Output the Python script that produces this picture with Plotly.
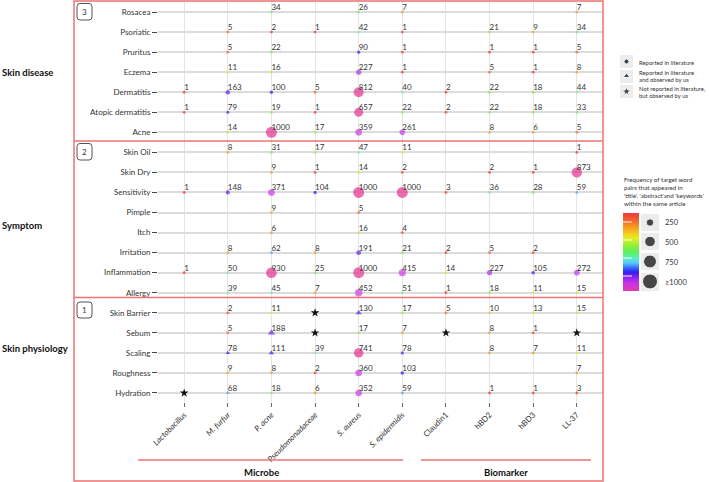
import numpy as np
import plotly.graph_objects as go

# ---------------- data ----------------
columns = ["Lactobacillus", "M. furfur", "P. acne", "Pseudomonadaceae", "S. aureus",
           "S. epidermidis", "Claudin1", "hBD2", "hBD3", "LL-37"]
italic_columns = ["Lactobacillus", "M. furfur", "P. acne", "Pseudomonadaceae", "S. aureus", "S. epidermidis"]

skin_disease_rows = ["Rosacea", "Psoriatic", "Pruritus", "Eczema", "Dermatitis", "Atopic dermatitis", "Acne"]
skin_disease_values = [
    [None, None, 34, None, 26, 7, None, None, None, 7],
    [None, 5, 2, 1, 42, 1, None, 21, 9, 34],
    [None, 5, 22, None, 90, 1, None, 1, 1, 5],
    [None, 11, 16, None, 227, 1, None, 5, 1, 8],
    [1, 163, 100, 5, 812, 40, 2, 22, 18, 44],
    [1, 79, 19, 1, 657, 22, 2, 22, 18, 33],
    [None, 14, 1000, 17, 359, 261, None, 8, 6, 5],
]

symptom_rows = ["Skin Oil", "Skin Dry", "Sensitivity", "Pimple", "Itch", "Irritation", "Inflammation", "Allergy"]
symptom_values = [
    [None, 8, 31, 17, 47, 11, None, None, None, 1],
    [None, None, 9, 1, 14, 2, None, 2, 1, 873],
    [1, 148, 371, 104, 1000, 1000, 3, 36, 28, 59],
    [None, None, 9, None, 5, None, None, None, None, None],
    [None, None, 6, None, 16, 4, None, None, None, None],
    [None, 8, 62, 8, 191, 21, 2, 5, 2, None],
    [1, 50, 930, 25, 1000, 415, 14, 227, 105, 272],
    [None, 39, 45, 7, 452, 51, 1, 18, 11, 15],
]

physiology_rows = ["Skin Barrier", "Sebum", "Scaling", "Roughness", "Hydration"]
physiology_values = [
    [None, 2, 11, None, 130, 17, 5, 10, 13, 15],
    [None, 5, 188, None, 17, 7, None, 8, 1, None],
    [None, 78, 111, 39, 741, 78, None, 8, 7, 11],
    [None, 9, 8, 2, 360, 103, None, None, None, 7],
    [None, 68, 18, 6, 352, 59, None, 1, 1, 3],
]

# reported in literature and observed by us (triangles)
observed_and_reported = [("Skin Barrier", "M. furfur"), ("Skin Barrier", "P. acne"),
                         ("Skin Barrier", "S. aureus"), ("Skin Barrier", "LL-37"),
                         ("Sebum", "P. acne"), ("Scaling", "M. furfur"),
                         ("Scaling", "P. acne"), ("Scaling", "Pseudomonadaceae"),
                         ("Hydration", "M. furfur")]
# not reported in literature, but observed by us (stars)
observed_only = [("Skin Barrier", "Pseudomonadaceae"), ("Sebum", "Pseudomonadaceae"),
                 ("Sebum", "Claudin1"), ("Sebum", "LL-37"), ("Hydration", "Lactobacillus")]

size_legend_values = [250, 500, 750, 1000]
size_legend_labels = ["250", "500", "750", "≥1000"]

# ---------------- styling helpers ----------------
FONT = "Lato, 'Open Sans', sans-serif"
RED = "#f07272"
W, H = 709, 482

marker_scale = [
    [0.0, "#f03030"], [0.22, "#f03a2a"], [0.25, "#f5901e"], [0.325, "#f5a020"],
    [0.345, "#dcf020"], [0.39, "#c8f020"], [0.42, "#80f040"], [0.5, "#66f050"],
    [0.53, "#70f0a8"], [0.575, "#70f0b4"], [0.585, "#4aa8ff"], [0.615, "#4aa0ff"],
    [0.63, "#2626f0"], [0.68, "#3020f0"], [0.72, "#6020e8"], [0.775, "#7420e8"],
    [0.79, "#c23cf0"], [0.89, "#d03ce0"], [0.92, "#e2318e"], [1.0, "#e2318e"],
]
bar_scale = [
    [0.0, "#f03c3c"], [0.1, "#f26a2a"], [0.17, "#f59a20"], [0.27, "#f2d020"],
    [0.33, "#e0f020"], [0.42, "#8ef03a"], [0.5, "#5cf05c"], [0.58, "#55f0c0"],
    [0.64, "#55c8ff"], [0.7, "#3a6aff"], [0.76, "#2a1aee"], [0.83, "#8a22ee"],
    [0.91, "#cc33e6"], [1.0, "#e03ab0"],
]

rows = skin_disease_rows + symptom_rows + physiology_rows
all_values = skin_disease_values + symptom_values + physiology_values

circ = {"x": [], "y": [], "v": []}
tri = {"x": [], "y": [], "v": []}
txt = {"x": [], "y": [], "t": []}
for r, vals in zip(rows, all_values):
    for c, v in zip(columns, vals):
        if v is None:
            continue
        target = tri if (r, c) in observed_and_reported else circ
        target["x"].append(c)
        target["y"].append(r)
        target["v"].append(v)
        txt["x"].append(c)
        txt["y"].append(r)
        txt["t"].append(str(v))


def color_val(vs):
    return [np.log10(min(v, 1000)) / 3 for v in vs]


def circ_size(vs):
    return [max(2.8, 11 * np.sqrt(min(v, 1000) / 1000)) for v in vs]


def tri_size(vs):
    return [max(3.8, 15 * np.sqrt(min(v, 1000) / 1000)) for v in vs]


fig = go.Figure()

fig.add_trace(go.Scatter(
    x=circ["x"], y=circ["y"], mode="markers", xaxis="x", yaxis="y",
    marker=dict(symbol="circle", size=circ_size(circ["v"]), color=color_val(circ["v"]),
                colorscale=marker_scale, cmin=0, cmax=1, line=dict(width=0)),
    hoverinfo="skip", showlegend=False))
fig.add_trace(go.Scatter(
    x=tri["x"], y=tri["y"], mode="markers", xaxis="x", yaxis="y",
    marker=dict(symbol="triangle-up", size=tri_size(tri["v"]), color=color_val(tri["v"]),
                colorscale=marker_scale, cmin=0, cmax=1, line=dict(width=0)),
    hoverinfo="skip", showlegend=False))
fig.add_trace(go.Scatter(
    x=[c for _, c in observed_only], y=[r for r, _ in observed_only], mode="markers",
    xaxis="x", yaxis="y",
    marker=dict(symbol="star", size=6.5, color="#111", line=dict(width=0)),
    hoverinfo="skip", showlegend=False))
fig.add_trace(go.Scatter(
    x=txt["x"], y=txt["y"], text=txt["t"], mode="text", textposition="top right",
    textfont=dict(size=8, color="#333", family=FONT), xaxis="x", yaxis="y",
    hoverinfo="skip", showlegend=False))

# ---------- overlay pixel-space axis for legend / decorations ----------
fig.add_trace(go.Scatter(
    x=[626.5, 626.5, 626.5], y=[61.5, 76, 91.5], mode="markers", xaxis="x2", yaxis="y2",
    marker=dict(symbol=["circle", "triangle-up", "star"], size=[5, 6, 7], color="black"),
    hoverinfo="skip", showlegend=False))
fig.add_trace(go.Scatter(
    x=[650] * 4, y=[222.5, 241.5, 261.5, 281.5], mode="markers", xaxis="x2", yaxis="y2",
    marker=dict(symbol="circle", size=[15 * np.sqrt(v / 1000) for v in size_legend_values], color="black"),
    hoverinfo="skip", showlegend=False))
n = 80
fig.add_trace(go.Heatmap(
    z=[[t] for t in np.linspace(0, 1, n)], x0=631, dx=16, y0=213 + 78 / (2 * n), dy=78 / n,
    colorscale=bar_scale, zmin=0, zmax=1, showscale=False, xaxis="x2", yaxis="y2",
    hoverinfo="skip"))

shapes = []


def line(x0, y0, x1, y1, color=RED, width=1.5, dash=None):
    d = dict(type="line", xref="x2", yref="y2", x0=x0, y0=y0, x1=x1, y1=y1,
             line=dict(color=color, width=width))
    if dash:
        d["line"]["dash"] = dash
    shapes.append(d)


def rrect(x0, y0, x1, y1, r=3):
    return (f"M{x0 + r},{y0} L{x1 - r},{y0} Q{x1},{y0} {x1},{y0 + r} L{x1},{y1 - r} "
            f"Q{x1},{y1} {x1 - r},{y1} L{x0 + r},{y1} Q{x0},{y1} {x0},{y1 - r} "
            f"L{x0},{y0 + r} Q{x0},{y0} {x0 + r},{y0} Z")


shapes.append(dict(type="rect", xref="x2", yref="y2", x0=74, y0=1, x1=603, y1=481,
                   line=dict(color=RED, width=1.5)))
line(74, 141, 603, 141)
line(74, 297.5, 603, 297.5)
line(138, 460, 403, 460)
line(421, 460, 591, 460)
for (y0, y1) in [(3.5, 20), (143.5, 160), (302, 318)]:
    shapes.append(dict(type="path", xref="x2", yref="y2", path=rrect(77, y0, 92, y1),
                       line=dict(color="#555", width=1)))
for (y0, y1) in [(55, 68), (70, 83), (85, 98)]:
    shapes.append(dict(type="rect", xref="x2", yref="y2", x0=620, y0=y0, x1=633, y1=y1,
                       fillcolor="#ececec", line=dict(width=0), layer="below"))
for (y0, y1) in [(214, 231), (233, 250), (253, 270), (273, 291)]:
    shapes.append(dict(type="rect", xref="x2", yref="y2", x0=641, y0=y0, x1=659, y1=y1,
                       fillcolor="#ececec", line=dict(width=0), layer="below"))
for yy in [222, 240, 258, 276]:
    line(623, yy, 639, yy, color="rgba(255,255,255,0.8)", width=1.2, dash="dash")

annotations = []


def label(text, x, y, size=8, xanchor="left", yanchor="middle", color="#333"):
    annotations.append(dict(text=text, x=x, y=y, xref="x2", yref="y2", showarrow=False,
                            xanchor=xanchor, yanchor=yanchor,
                            font=dict(size=size, color=color, family=FONT)))


label("<b>Skin disease</b>", 0, 72, size=9.5, color="#111")
label("<b>Symptom</b>", 0, 225, size=9.5, color="#111")
label("<b>Skin physiology</b>", 0, 348, size=9.5, color="#111")
label("3", 84.5, 12, xanchor="center")
label("2", 84.5, 152, xanchor="center")
label("1", 84.5, 310, xanchor="center")
label("<b>Microbe</b>", 261.5, 472, size=9.5, xanchor="center", color="#111")
label("<b>Biomarker</b>", 505.5, 472, size=9.5, xanchor="center", color="#111")

label("Reported in literature", 637, 62, size=5.9)
label("Reported in literature", 637, 72.5, size=5.9)
label("and observed by us", 637, 79.5, size=5.9)
label("Not reported in literature,", 637, 88, size=5.9)
label("but observed by us", 637, 95, size=5.9)

for i, s in enumerate(["Frequency of target word", "pairs that appeared in",
                       "'title', 'abstract'and 'keywords'", "within the same article"]):
    label(s, 622, 179 + 8 * i, size=6.2)
for s, yy in zip(size_legend_labels, [222.5, 242.5, 262, 282]):
    label(s, 663, yy, size=7.5)

ticktext = [f"<i>{c}</i>" if c in italic_columns else c for c in columns]

fig.update_layout(
    width=W, height=H, margin=dict(l=0, r=0, t=0, b=0, pad=0), autosize=False,
    paper_bgcolor="white", plot_bgcolor="rgba(0,0,0,0)",
    font=dict(family=FONT, size=8, color="#333"),
    xaxis=dict(domain=[158 / W, 603 / W], anchor="y", type="category",
               categoryarray=columns, categoryorder="array",
               tickvals=columns, ticktext=ticktext, tickangle=-45,
               range=[-0.6, 9.6], showgrid=True, gridcolor="#e4e4e4", gridwidth=1,
               zeroline=False, showline=False, ticks="outside", ticklen=4,
               tickcolor="#666", tickfont=dict(size=8, color="#333", family=FONT),
               automargin=False),
    yaxis=dict(domain=[(H - 402) / H, (H - 1) / H], anchor="x", type="category",
               categoryarray=rows, categoryorder="array",
               range=[19.45, -0.55], showgrid=True, gridcolor="#dcdcdc", gridwidth=1.5,
               zeroline=False, showline=False, ticks="outside", ticklen=5,
               tickcolor="#444", tickfont=dict(size=8, color="#333", family=FONT),
               automargin=False),
    xaxis2=dict(domain=[0, 1], anchor="y2", range=[0, W], visible=False, fixedrange=True,
                automargin=False),
    yaxis2=dict(domain=[0, 1], anchor="x2", range=[H, 0], visible=False, fixedrange=True,
                automargin=False),
    shapes=shapes, annotations=annotations,
)

fig.write_html("out.html", config={"displayModeBar": False},
               post_script="document.body.style.margin='0';document.body.style.overflow='hidden';")
